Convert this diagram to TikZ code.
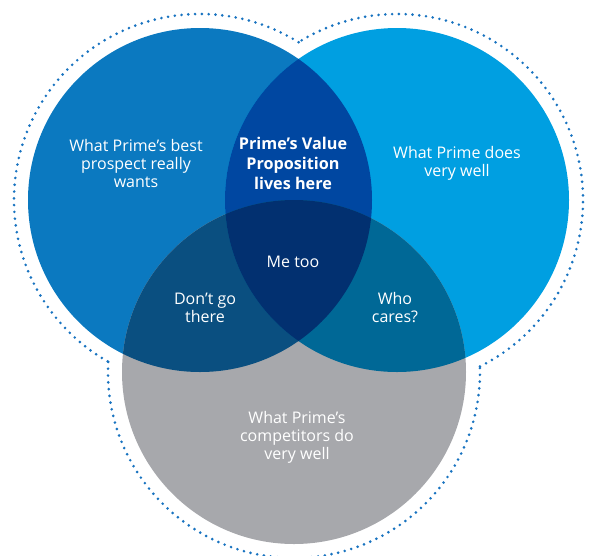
\documentclass[tikz,border=0pt]{standalone}
\usepackage{fontspec}
\setmainfont{Open Sans}
\definecolor{cL}{HTML}{0B79C0}
\definecolor{cR}{HTML}{009FE1}
\definecolor{cB}{HTML}{A7A8AC}
\definecolor{cLR}{HTML}{0047A1}
\definecolor{cLB}{HTML}{0A4F80}
\definecolor{cRB}{HTML}{006896}
\definecolor{cC}{HTML}{023070}
\definecolor{dotc}{HTML}{1873C0}
\tikzset{
  lbl/.style={text=white,align=center,font=\fontsize{16}{18}\selectfont},
  lblb/.style={text=white,align=center,font=\bfseries\fontsize{16.2}{20}\selectfont},
  dotline/.style={dotc,line width=2.9pt,line cap=round,dash pattern=on 0pt off 6.8pt}
}
\begin{document}
\begin{tikzpicture}[x=1pt,y=-1pt]
\useasboundingbox (0,0) rectangle (589,555);
\coordinate (L) at (200,200);
\coordinate (R) at (397,200);
\coordinate (B) at (294,372);
\def\rr{172}
\fill[cL] (L) circle[radius=\rr];
\fill[cR] (R) circle[radius=\rr];
\fill[cB] (B) circle[radius=\rr];
\begin{scope}
  \clip (L) circle[radius=\rr];
  \fill[cLR] (R) circle[radius=\rr];
  \fill[cLB] (B) circle[radius=\rr];
\end{scope}
\begin{scope}
  \clip (R) circle[radius=\rr];
  \fill[cRB] (B) circle[radius=\rr];
\end{scope}
\begin{scope}
  \clip (L) circle[radius=\rr];
  \clip (R) circle[radius=\rr];
  \fill[cC] (B) circle[radius=\rr];
\end{scope}
% dotted outline (y axis flipped: angles mirrored)
\draw[dotline] (L) ++(-58:186) arc[start angle=-58,end angle=-240.5,radius=186];
\draw[dotline] (R) ++(63.5:186) arc[start angle=63.5,end angle=-122,radius=186];
\draw[dotline] (B) ++(-176.9:186) arc[start angle=-176.9,end angle=-361.7,radius=186];
% labels
\node[lbl] (tl) at (136,163) {What Prime’s best\\prospect really\\wants};
\node[lblb] (tc) at (293,163) {Prime’s Value\\Proposition\\lives here};
\node[lbl] (tr) at (457,163) {What Prime does\\very well};
\node[lbl] (mc) at (293,262) {Me too};
\node[lbl] (ml) at (205,308) {Don’t go\\there};
\node[lbl] (mr) at (395,308) {Who\\cares?};
\node[lbl] (bc) at (297,437) {What Prime’s\\competitors do\\very well};
\end{tikzpicture}
\end{document}
